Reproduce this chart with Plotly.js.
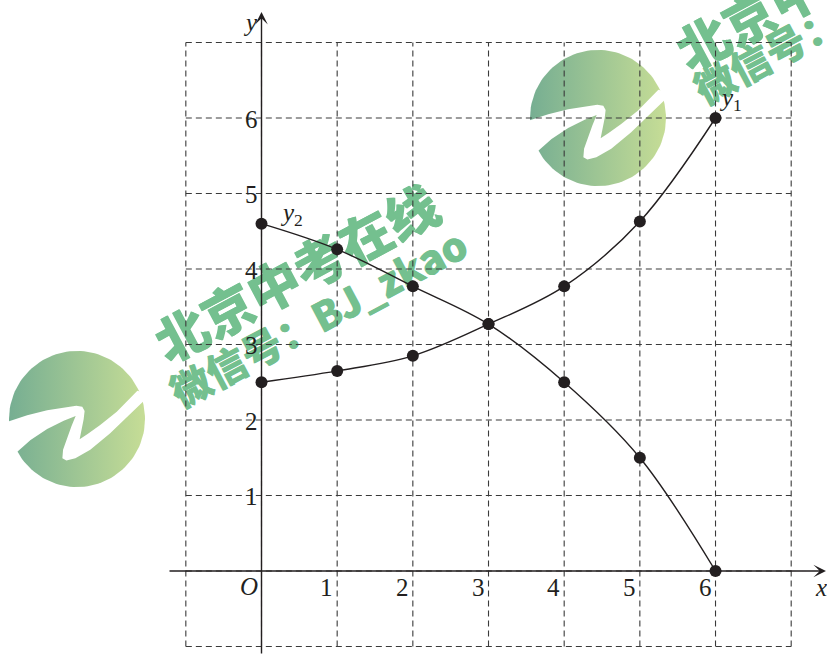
<!DOCTYPE html>
<html>
<head>
<meta charset="utf-8">
<script src="https://cdn.plot.ly/plotly-3.0.1.min.js"></script>
<style>
  html, body { margin: 0; padding: 0; background: #ffffff; }
  #wrap { position: relative; width: 827px; height: 655px; overflow: hidden; }
  #wm, #chart { position: absolute; left: 0; top: 0; width: 827px; height: 655px; }
</style>
</head>
<body>
<div id="wrap">
  <div id="wm"></div>
  <div id="chart"></div>
</div>
<script>
// ---- data ----
const xValues = [0, 1, 2, 3, 4, 5, 6];
const y1Values = [2.5, 2.65, 2.85, 3.27, 3.77, 4.63, 6.0];
const y2Values = [4.6, 4.26, 3.77, 3.27, 2.5, 1.5, 0.0];
const xTickLabels = ['1', '2', '3', '4', '5', '6'];
const yTickLabels = ['1', '2', '3', '4', '5', '6'];
const gridMin = -1;
const gridMax = 7;

// ---- page geometry: origin and unit size in pixels ----
const W = 827, H = 655;
const X0 = 261.5, UX = 75.67;   // pixel of x = 0, pixels per unit
const Y0 = 571, UY = 75.5;      // pixel of y = 0, pixels per unit
const xRange = [-X0 / UX, (W - X0) / UX];
const yRange = [(Y0 - H) / UY, Y0 / UY];
const toX = px => (px - X0) / UX;
const toY = py => (Y0 - py) / UY;

const INK = '#231f20';
const GRID = '#3a3a3a';
const SERIF = 'Liberation Serif, Times New Roman, serif';

const baseLayout = {
  width: W, height: H,
  margin: { l: 0, r: 0, t: 0, b: 0, pad: 0 },
  showlegend: false,
  xaxis: { range: xRange, visible: false, fixedrange: true },
  yaxis: { range: yRange, visible: false, fixedrange: true }
};

// ---- background watermark layer ----
const GREEN = 'rgb(116,192,143)';
const CJK = 'Noto Sans CJK SC, Noto Sans, sans-serif';
const THICK = '0.7px 0.3px 0 ' + GREEN;

function logoTraces(cx, cy, r) {
  const cxs = [], cys = [];
  for (let i = 0; i <= 120; i++) {
    const a = 2 * Math.PI * i / 120;
    cxs.push(toX(cx + r * Math.cos(a)));
    cys.push(toY(cy + r * Math.sin(a)));
  }
  // white ribbon, in units of the radius (y downward)
  const ribbon = [
    [-1.171, 0.088], [-1.0, 0.034], [-0.732, -0.054], [-0.439, -0.127], [-0.195, -0.171],
    [-0.010, -0.195], [0.078, -0.180], [0.112, -0.117], [0.098, 0.005], [0.063, 0.161],
    [0.039, 0.298], [0.156, 0.220], [0.341, 0.088], [0.585, -0.107], [0.888, -0.415],
    [1.024, -0.376], [0.985, -0.268], [0.732, -0.024], [0.488, 0.210], [0.195, 0.454],
    [-0.024, 0.576], [-0.156, 0.610], [-0.215, 0.576], [-0.205, 0.454], [-0.146, 0.283],
    [-0.083, 0.112], [-0.020, -0.044], [-0.195, 0.024], [-0.439, 0.146], [-0.683, 0.307],
    [-0.878, 0.483], [-1.171, 0.6]
  ];
  const rx = ribbon.map(p => toX(cx + r * p[0]));
  const ry = ribbon.map(p => toY(cy + r * p[1]));
  rx.push(rx[0]); ry.push(ry[0]);
  return [
    {
      type: 'scatter', mode: 'lines', x: cxs, y: cys, fill: 'toself',
      line: { width: 0, color: 'rgba(0,0,0,0)' },
      fillcolor: 'rgb(160,200,148)',
      fillgradient: { type: 'horizontal',
        colorscale: [[0, 'rgb(118,174,146)'], [1, 'rgb(198,221,150)']] },
      hoverinfo: 'skip'
    },
    {
      type: 'scatter', mode: 'lines', x: rx, y: ry, fill: 'toself',
      line: { width: 0, color: 'rgba(0,0,0,0)' }, fillcolor: '#ffffff',
      hoverinfo: 'skip'
    }
  ];
}

function wmText(text, px, py, size) {
  return {
    xref: 'paper', yref: 'paper', x: px / W, y: 1 - py / H,
    xanchor: 'center', yanchor: 'middle', showarrow: false,
    text: text, textangle: -28,
    font: { family: CJK, size: size, color: GREEN, weight: 900, shadow: THICK }
  };
}

const wmData = [].concat(logoTraces(77, 419, 68), logoTraces(598, 118, 68));
const wmLayout = Object.assign({}, baseLayout, {
  paper_bgcolor: '#ffffff', plot_bgcolor: '#ffffff',
  annotations: [
    wmText('北京中考在线', 295, 271, 52),
    wmText('微信号：BJ_zkao', 317, 317, 40),
    wmText('北京中考在线', 817, -20, 52),
    wmText('微信号：BJ_zkao', 841, 14, 40)
  ]
});
Plotly.newPlot('wm', wmData, wmLayout, { staticPlot: true, displayModeBar: false });

// ---- chart layer ----
// dashed unit grid from gridMin to gridMax
const gx = [], gy = [];
for (let v = gridMin; v <= gridMax; v++) {
  gx.push(v, v, null); gy.push(gridMin, gridMax, null);
  gx.push(gridMin, gridMax, null); gy.push(v, v, null);
}
const gridTrace = {
  type: 'scatter', mode: 'lines', x: gx, y: gy, connectgaps: false,
  line: { color: GRID, width: 1.1, dash: '6px,4px' }, hoverinfo: 'skip'
};

function curve(yv) {
  return {
    type: 'scatter', mode: 'lines+markers', x: xValues, y: yv,
    line: { color: INK, width: 1.4, shape: 'spline', smoothing: 1 },
    marker: { color: INK, size: 12 }, hoverinfo: 'skip', cliponaxis: false
  };
}

const labelFont = { family: SERIF, size: 25, color: INK };
const ann = [];
// x tick labels
xTickLabels.forEach((t, i) => ann.push({
  x: i + 1, y: 0, xref: 'x', yref: 'y', text: t, showarrow: false,
  xanchor: 'right', yanchor: 'middle', xshift: -2, yshift: -16, font: labelFont
}));
// y tick labels
yTickLabels.forEach((t, i) => ann.push({
  x: 0, y: i + 1, xref: 'x', yref: 'y', text: t, showarrow: false,
  xanchor: 'right', yanchor: 'middle', xshift: -2, yshift: -1, font: labelFont
}));
// origin and axis names
ann.push({ x: 0, y: 0, text: '<i>O</i>', showarrow: false, xanchor: 'right', yanchor: 'middle',
  xshift: -2, yshift: -15, font: labelFont });
ann.push({ x: toX(821), y: 0, text: '<i>x</i>', showarrow: false, xanchor: 'center', yanchor: 'middle',
  yshift: -16, font: labelFont });
ann.push({ x: 0, y: toY(22), text: '<i>y</i>', showarrow: false, xanchor: 'right', yanchor: 'middle',
  xshift: -2, font: labelFont });
// curve names
ann.push({ x: xValues[0], y: y2Values[0], text: '<i>y</i><sub>2</sub>', showarrow: false,
  xanchor: 'left', yanchor: 'middle', xshift: 16, yshift: 9, font: labelFont });
ann.push({ x: xValues[6], y: y1Values[6], text: '<i>y</i><sub>1</sub>', showarrow: false,
  xanchor: 'left', yanchor: 'middle', xshift: 1, yshift: 19, font: labelFont });
// axes with arrow heads
ann.push({ x: toX(826), y: 0, ax: toX(168), ay: 0, axref: 'x', ayref: 'y', xref: 'x', yref: 'y',
  text: '', showarrow: true, arrowhead: 3, arrowsize: 1.5, arrowwidth: 1.4, arrowcolor: INK, standoff: 0, startstandoff: 0 });
ann.push({ x: 0, y: toY(12), ax: 0, ay: yRange[0], axref: 'x', ayref: 'y', xref: 'x', yref: 'y',
  text: '', showarrow: true, arrowhead: 3, arrowsize: 1.5, arrowwidth: 1.4, arrowcolor: INK, standoff: 0, startstandoff: 0 });

const chartLayout = Object.assign({}, baseLayout, {
  paper_bgcolor: 'rgba(0,0,0,0)', plot_bgcolor: 'rgba(0,0,0,0)',
  annotations: ann
});
Plotly.newPlot('chart', [gridTrace, curve(y1Values), curve(y2Values)], chartLayout,
  { staticPlot: true, displayModeBar: false });
</script>
</body>
</html>
